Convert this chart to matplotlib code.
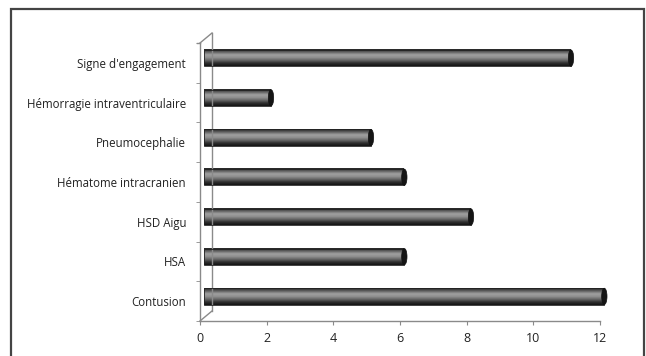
import numpy as np
import matplotlib
matplotlib.use("Agg")
import matplotlib.pyplot as plt
from matplotlib.patches import Ellipse, Rectangle
from matplotlib.colors import LinearSegmentedColormap

plt.rcParams["font.family"] = ["Open Sans", "DejaVu Sans"]

categories = ["Contusion", "HSA", "HSD Aigu", "Hématome intracranien",
              "Pneumocephalie", "Hémorragie intraventriculaire", "Signe d'engagement"]
values = [12, 6, 8, 6, 5, 2, 11]
xticks = [0, 2, 4, 6, 8, 10, 12]

AX = "#8a8a8a"
fig = plt.figure(figsize=(6.46, 3.56), dpi=100)
ax = fig.add_axes([200 / 646, 35 / 356, 400 / 646, 278 / 356])
ax.set_xlim(0, 12)
ax.set_ylim(-0.5, len(categories) - 0.5)

# depth offset of the pseudo-3D bars (data units)
dx, dy, h = 0.13, 0.12, 0.41
shade = LinearSegmentedColormap.from_list(
    "cyl", ["#222222", "#606060", "#a0a0a0", "#909090", "#646464", "#2e2e2e", "#141414"])
grad = np.linspace(0, 1, 64).reshape(-1, 1)
for i, v in enumerate(values):
    y0, y1 = i + dy - h / 2, i + dy + h / 2
    im = ax.imshow(grad, cmap=shade, aspect="auto", origin="upper",
                   extent=(dx, v + dx, y0, y1), zorder=2, interpolation="bilinear")
    im.set_clip_on(False)
    ax.add_patch(Rectangle((dx, y0), v, h, fill=False, ec="#222", lw=0.6, zorder=3, clip_on=False))
    ax.add_patch(Ellipse((v + dx, i + dy), 0.16, h, fc="#151515", ec="#111", lw=0.5,
                         zorder=4, clip_on=False))

# axes styling
for s in ["top", "right"]:
    ax.spines[s].set_visible(False)
for s in ["left", "bottom"]:
    ax.spines[s].set_color(AX)
    ax.spines[s].set_linewidth(1.0)
ax.set_xticks(xticks)
ax.set_xticklabels([str(t) for t in xticks], fontsize=9, color="#222")
ax.tick_params(axis="x", direction="out", length=3, color=AX, pad=5)
ax.set_yticks(range(len(categories)))
ax.set_yticklabels(categories, fontsize=8.3, color="#222")
ax.tick_params(axis="y", length=0, pad=10)
ax.set_yticks(np.arange(-0.5, len(categories), 1), minor=True)
ax.tick_params(axis="y", which="minor", direction="out", length=3, color=AX)

# back wall of the 3D frame
wx, wy = 12 / 400, 10 / 278
t = ax.transAxes
ax.plot([wx, wx], [wy, 1 + wy], color=AX, lw=1.0, transform=t, clip_on=False)
ax.plot([0, wx], [0, wy], color=AX, lw=1.0, transform=t, clip_on=False)
ax.plot([0, wx], [1, 1 + wy], color=AX, lw=1.0, transform=t, clip_on=False)
ax.plot([-0.008, 0], [1, 1], color=AX, lw=1.0, transform=t, clip_on=False)

# outer frame
fig.add_artist(Rectangle((11 / 646, -0.05), 633 / 646, 1.05 - 9 / 356, transform=fig.transFigure,
                         fill=False, ec="#444", lw=1.6))

fig.savefig("out.png", dpi=100)
